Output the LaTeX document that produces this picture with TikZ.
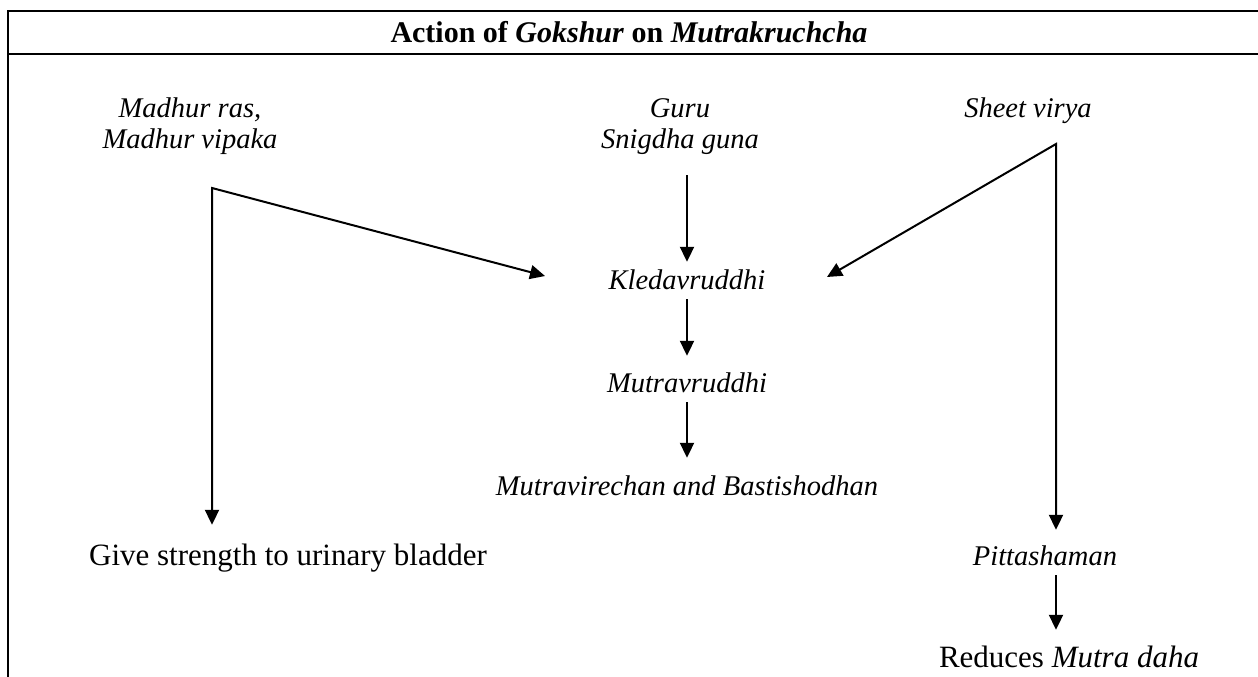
\documentclass[tikz,border=0pt]{standalone}
\usepackage{fontspec}
\setmainfont{Liberation Serif}
\usetikzlibrary{arrows.meta}
\tikzset{
  txt/.style={inner sep=0pt, anchor=base, font=\fontsize{31}{34}\selectfont, text height=20pt, text depth=6pt},
  itxt/.style={txt, font=\fontsize{28.5}{32}\selectfont\itshape},
  arr/.style={line width=2pt, -{Triangle[length=15pt,width=14pt]}},
  barr/.style={line width=2pt, {Triangle[length=15pt,width=14pt]}-{Triangle[length=15pt,width=14pt]}},
  rule/.style={line width=2.6pt}
}
\begin{document}
\begin{tikzpicture}[x=1pt,y=-1pt]
\useasboundingbox (0,0) rectangle (1258,677);
% table frame
\coordinate (tl) at (8,11);
\coordinate (tr) at (1258,11);
\coordinate (bl) at (8,677);
\coordinate (hl) at (8,54);
\coordinate (hr) at (1258,54);
\draw[rule] (tr) -- (tl) -- (bl);
\draw[rule] (hl) -- (hr);
\node[txt, font=\fontsize{30}{32}\selectfont\bfseries] (title) at (629,43) {Action of \textit{Gokshur} on \textit{Mutrakruchcha}};
% top row
\node[itxt] (madhurA) at (190,117) {Madhur ras,};
\node[itxt] (madhurB) at (190,148) {Madhur vipaka};
\node[itxt] (guruA) at (680,117) {Guru};
\node[itxt] (guruB) at (680,148) {Snigdha guna};
\node[itxt] (sheet) at (1028,117) {Sheet virya};
% centre chain
\node[itxt] (kled) at (687,289) {Kledavruddhi};
\node[itxt] (mv) at (687,392) {Mutravruddhi};
\node[itxt] (mvir) at (687,495) {Mutravirechan and Bastishodhan};
% bottom
\node[txt] (give) at (288,565) {Give strength to urinary bladder};
\node[itxt] (pitta) at (1045,565) {Pittashaman};
\node[txt] (red) at (1069,667) {Reduces \textit{Mutra daha}};
% corners and free ends
\coordinate (mc) at (212,188);
\coordinate (mk) at (545,276);
\coordinate (sc) at (1056,144);
\coordinate (sk) at (827,277);
% connectors
\draw[barr, shorten <=20pt] (mc |- give.north) -- (mc) -- (mk);
\draw[barr, shorten >=15pt] (sk) -- (sc) -- (sc |- pitta.north);
\draw[arr, shorten <=21pt, shorten >=7pt] (guruB.south -| kled.north) -- (kled.north);
\draw[arr, shorten <=4pt, shorten >=16pt] (kled.south) -- (mv.north);
\draw[arr, shorten <=4pt, shorten >=17pt] (mv.south) -- (mvir.north);
\draw[arr, shorten <=4pt, shorten >=17pt] (sc |- pitta.south) -- (sc |- red.north);
\end{tikzpicture}
\end{document}
